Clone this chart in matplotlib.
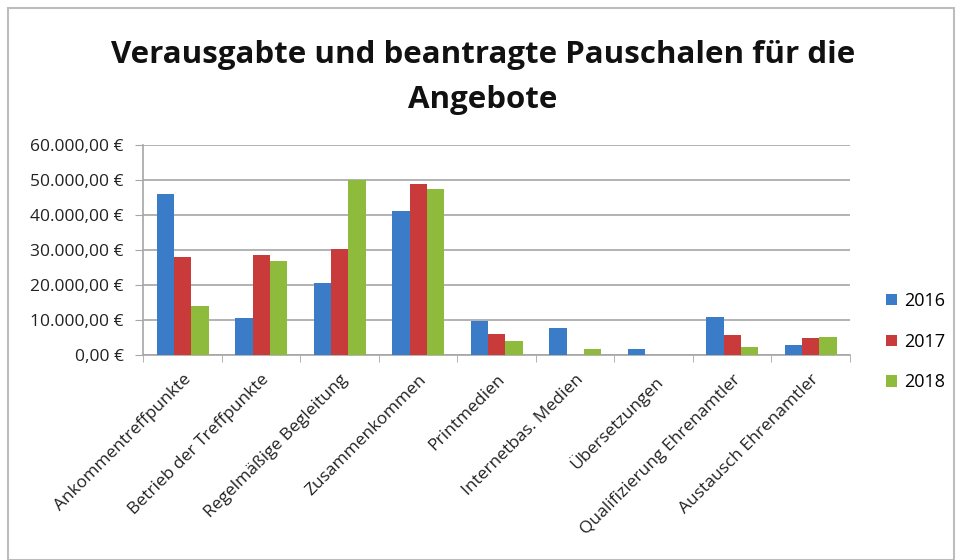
import matplotlib
matplotlib.use("Agg")
import matplotlib.pyplot as plt
import numpy as np
from matplotlib.ticker import FuncFormatter, FixedLocator

categories = ["Ankommentreffpunkte", "Betrieb der Treffpunkte", "Regelmäßige Begleitung",
              "Zusammenkommen", "Printmedien", "Internetbas. Medien", "Übersetzungen",
              "Qualifizierung Ehrenamtler", "Austausch Ehrenamtler"]
years = ["2016", "2017", "2018"]
v2016 = [46000, 10500, 20500, 41200, 9700, 7700, 1600, 10900, 2900]
v2017 = [28000, 28500, 30200, 48900, 5900, 0, 0, 5600, 4900]
v2018 = [14000, 27000, 50000, 47400, 3900, 1700, 0, 2400, 5200]
colors = ["#3a7cc7", "#c93a3a", "#8fbb3c"]

plt.rcParams['font.family'] = ['Open Sans', 'DejaVu Sans']

fig = plt.figure(figsize=(9.56, 5.6), dpi=100)
# outer frame
fig.patches.append(plt.Rectangle((0.008, 0.0), 0.99, 0.985, transform=fig.transFigure,
                                 fill=False, edgecolor="#bdbdbd", linewidth=1.5))
ax = fig.add_axes([0.150, 0.366, 0.739, 0.375])

x = np.arange(len(categories))
w = 0.22
for i, (vals, c, lab) in enumerate(zip([v2016, v2017, v2018], colors, years)):
    ax.bar(x + (i - 1) * w, vals, width=w, color=c, label=lab, zorder=3)

ax.set_xlim(-0.5, len(categories) - 0.5)
ax.set_ylim(0, 60000)
ax.set_yticks(np.arange(0, 60001, 10000))
ax.yaxis.set_major_formatter(FuncFormatter(
    lambda v, p: f"{int(v):,}".replace(",", ".") + ",00 €"))
ax.grid(axis='y', color="#a6a6a6", linewidth=1.2, zorder=0)
for s in ["top", "right"]:
    ax.spines[s].set_visible(False)
ax.spines["left"].set_color("#a6a6a6")
ax.spines["bottom"].set_color("#a6a6a6")
ax.spines["left"].set_linewidth(1.2)
ax.spines["bottom"].set_linewidth(1.2)
ax.tick_params(axis='y', length=6, color="#a6a6a6", labelsize=12.5, labelcolor="#222222", pad=8)

ax.set_xticks(x)
ax.set_xticklabels(categories, rotation=45, ha='right', rotation_mode='anchor',
                   fontsize=12.5, color="#222222")
ax.tick_params(axis='x', length=0, pad=12)
ax.xaxis.set_minor_locator(FixedLocator(np.arange(-0.5, len(categories), 1.0)))
ax.tick_params(axis='x', which='minor', length=5, color="#a6a6a6")

fig.text(0.505, 0.902, "Verausgabte und beantragte Pauschalen für die", ha='center',
         va='center', fontsize=22.5, fontweight='bold', color="#111111")
fig.text(0.505, 0.822, "Angebote", ha='center', va='center', fontsize=22.5,
         fontweight='bold', color="#111111")

ax.legend(loc='center left', bbox_to_anchor=(0.91, 0.390), bbox_transform=fig.transFigure,
          frameon=False, fontsize=13, handlelength=0.6, handleheight=0.6,
          labelspacing=1.25, handletextpad=0.4)

fig.savefig("out.png", dpi=100)
